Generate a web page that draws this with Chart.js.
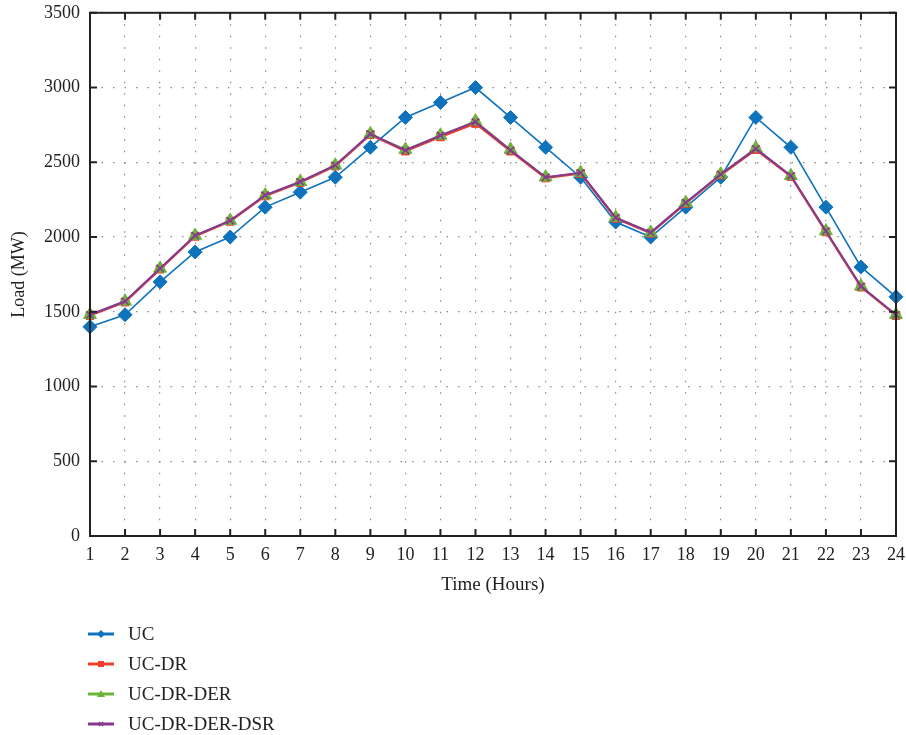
<!DOCTYPE html>
<html>
<head>
<meta charset="utf-8">
<script src="https://cdn.jsdelivr.net/npm/chart.js"></script>
<style>
  html, body { margin: 0; padding: 0; background: #ffffff; overflow: hidden; }
  #wrap { position: relative; width: 906px; height: 735px; overflow: hidden; font-family: 'Liberation Serif', 'DejaVu Serif', serif; }
  #chartBox { position: absolute; left: 0; top: -8px; width: 913px; height: 608px; }
  #legend { position: absolute; left: 86px; top: 619px; }
  .item { display: flex; align-items: center; height: 30px; font-size: 19px; color: #222; }
  .item canvas { margin-right: 12px; }
</style>
</head>
<body>
<div id="wrap">
  <div id="chartBox"><canvas id="c"></canvas></div>
  <div id="legend"></div>
</div>
<script>
// Hours 1..24
const hours = ['1','2','3','4','5','6','7','8','9','10','11','12','13','14','15','16','17','18','19','20','21','22','23','24'];
const ucLoad = [1400,1480,1700,1900,2000,2200,2300,2400,2600,2800,2900,3000,2800,2600,2400,2100,2000,2200,2400,2800,2600,2200,1800,1600];
const ucDrLoad = [1475,1565,1785,2005,2105,2275,2365,2475,2685,2575,2670,2760,2575,2395,2425,2125,2025,2225,2415,2585,2405,2035,1665,1475];
const ucDrDerLoad = [1480,1570,1790,2010,2110,2280,2370,2480,2690,2585,2680,2775,2585,2400,2430,2130,2030,2230,2420,2595,2410,2040,1670,1480];
const ucDrDerDsrLoad = [1480,1570,1790,2010,2110,2280,2370,2480,2690,2580,2680,2770,2580,2400,2430,2130,2030,2230,2420,2590,2410,2040,1670,1480];
const yTicks = [0,500,1000,1500,2000,2500,3000,3500];

const seriesNames = ['UC', 'UC-DR', 'UC-DR-DER', 'UC-DR-DER-DSR'];
const seriesColors = ['#0f72bd', '#e8402c', '#6cb33a', '#8a3592'];
const seriesMarkers = ['rectRot', 'rect', 'triangle', 'crossRot'];

const serif = "'Liberation Serif', 'DejaVu Serif', serif";
const ink = '#222222';

// frame with inward ticks on all four sides
const framePlugin = {
  id: 'frame',
  afterDraw(chart) {
    const { ctx, chartArea: a, scales } = chart;
    ctx.save();
    ctx.strokeStyle = ink;
    ctx.lineWidth = 2;
    ctx.strokeRect(a.left, a.top, a.right - a.left, a.bottom - a.top);
    const t = 7;
    ctx.beginPath();
    hours.forEach((h, i) => {
      const x = scales.x.getPixelForValue(i);
      ctx.moveTo(x, a.bottom); ctx.lineTo(x, a.bottom - t);
      ctx.moveTo(x, a.top); ctx.lineTo(x, a.top + t);
    });
    yTicks.forEach(v => {
      const y = scales.y.getPixelForValue(v);
      ctx.moveTo(a.left, y); ctx.lineTo(a.left + t, y);
      ctx.moveTo(a.right, y); ctx.lineTo(a.right - t, y);
    });
    ctx.stroke();
    ctx.restore();
  }
};

const loads = [ucLoad, ucDrLoad, ucDrDerLoad, ucDrDerDsrLoad];
const radii = [7, 5.5, 7.5, 5];
const widths = [1.6, 2.2, 1.6, 2];
const drawOrder = [4, 3, 2, 1]; // purple on top, blue underneath

const datasets = loads.map((d, i) => ({
  label: seriesNames[i],
  data: d,
  order: drawOrder[i],
  borderColor: seriesColors[i],
  backgroundColor: seriesColors[i],
  pointStyle: seriesMarkers[i],
  pointRadius: radii[i],
  pointBorderWidth: i === 3 ? 1.5 : 1,
  pointBorderColor: seriesColors[i],
  pointBackgroundColor: seriesColors[i],
  borderWidth: widths[i],
  tension: 0
}));

const dotted = { color: '#8a8a8a', lineWidth: 1.2, drawTicks: false };

new Chart(document.getElementById('c'), {
  type: 'line',
  data: { labels: hours, datasets },
  options: {
    responsive: true,
    maintainAspectRatio: false,
    animation: false,
    layout: { padding: { top: 3, right: 2, left: 0, bottom: 0 } },
    plugins: { legend: { display: false }, tooltip: { enabled: false } },
    scales: {
      x: {
        type: 'category',
        offset: false,
        grid: dotted,
        border: { display: false, dash: [1.5, 10] },
        ticks: { color: ink, font: { family: serif, size: 18 }, padding: 8, maxRotation: 0, autoSkip: false },
        title: { display: true, text: 'Time (Hours)', color: ink, font: { family: serif, size: 19 }, padding: { top: 6 } },
        afterFit(s) { s.height = 64; }
      },
      y: {
        min: 0, max: 3500,
        grid: dotted,
        border: { display: false, dash: [1.5, 10] },
        ticks: { stepSize: 500, color: ink, font: { family: serif, size: 18 }, padding: 10, callback: v => String(v) },
        title: { display: true, text: 'Load (MW)', color: ink, font: { family: serif, size: 18 }, padding: { top: 8, bottom: 0 } },
        afterFit(s) { s.width = 90; }
      }
    }
  },
  plugins: [framePlugin]
});

// vertical legend under the chart
const legend = document.getElementById('legend');
seriesNames.forEach((name, i) => {
  const row = document.createElement('div');
  row.className = 'item';
  const cv = document.createElement('canvas');
  cv.width = 30; cv.height = 14;
  const g = cv.getContext('2d');
  g.strokeStyle = seriesColors[i];
  g.fillStyle = seriesColors[i];
  g.lineWidth = 3;
  g.beginPath(); g.moveTo(2, 7); g.lineTo(28, 7); g.stroke();
  g.beginPath();
  if (i === 0) { g.moveTo(15, 3); g.lineTo(19, 7); g.lineTo(15, 11); g.lineTo(11, 7); g.closePath(); g.fill(); }
  else if (i === 1) { g.fillRect(12, 4, 6, 6); }
  else if (i === 2) { g.moveTo(15, 3); g.lineTo(19, 10); g.lineTo(11, 10); g.closePath(); g.fill(); }
  else { g.lineWidth = 1.2; g.moveTo(13, 5); g.lineTo(17, 9); g.moveTo(17, 5); g.lineTo(13, 9); g.stroke(); }
  row.appendChild(cv);
  const span = document.createElement('span');
  span.textContent = name;
  row.appendChild(span);
  legend.appendChild(row);
});
</script>
</body>
</html>
